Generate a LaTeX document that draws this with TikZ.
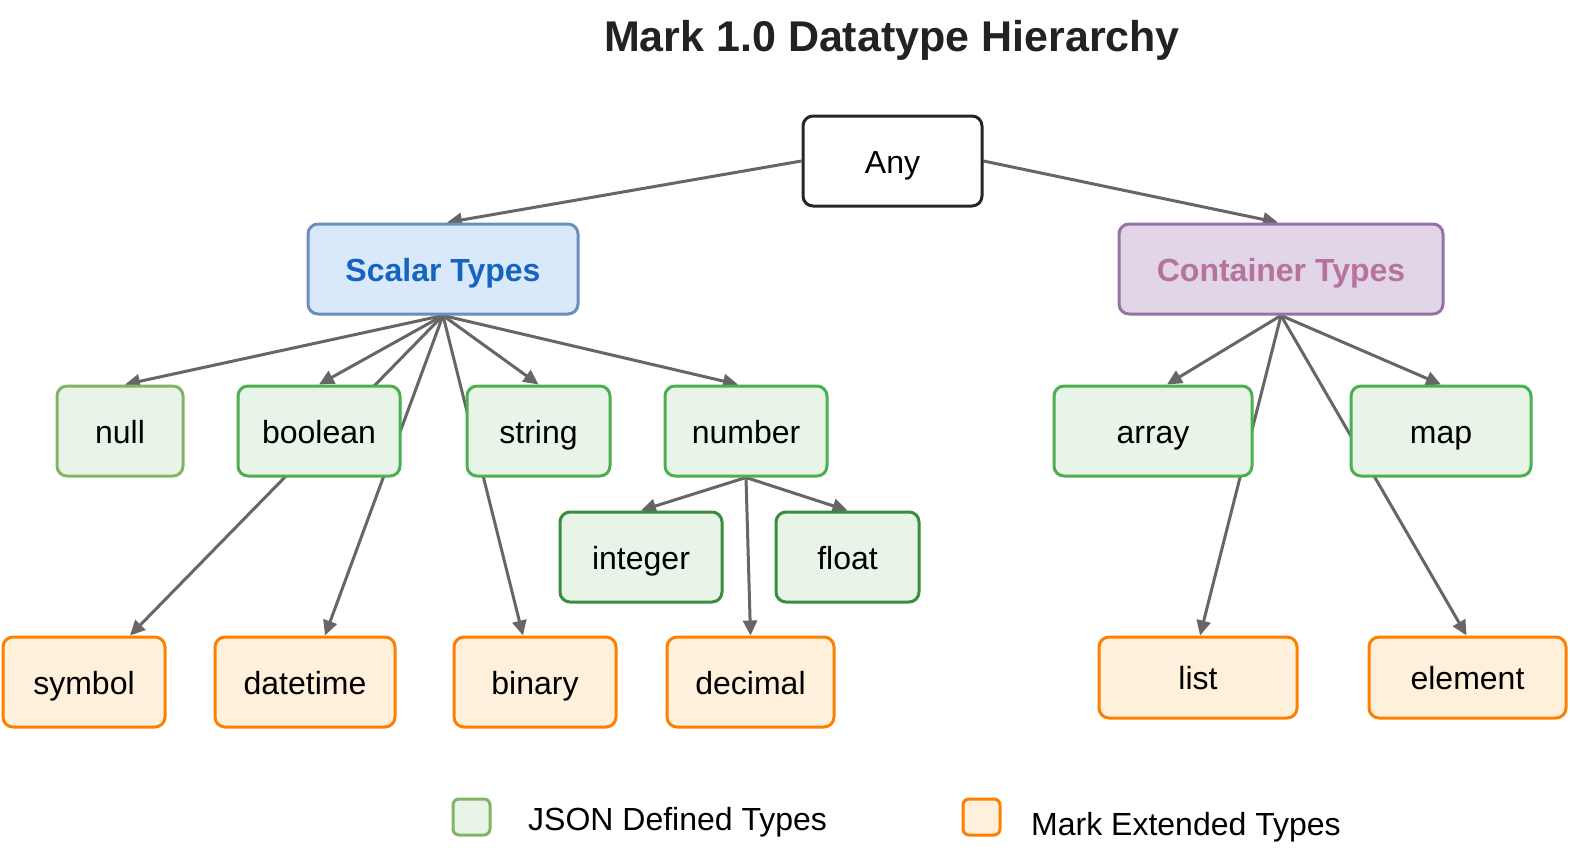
\documentclass[tikz,border=0pt]{standalone}
\usepackage{fontspec}
\setmainfont{Liberation Sans}
\usetikzlibrary{arrows.meta,backgrounds,calc}
\definecolor{edgegray}{HTML}{666666}
\definecolor{jsonfill}{HTML}{E8F4E8}
\definecolor{jsonborder}{HTML}{4CAF50}
\definecolor{jsonlight}{HTML}{82B366}
\definecolor{jsondark}{HTML}{388E3C}
\definecolor{markfill}{HTML}{FFF0DC}
\definecolor{markborder}{HTML}{FF8000}
\definecolor{scalarfill}{HTML}{DAE8FC}
\definecolor{scalarborder}{HTML}{6C8EBF}
\definecolor{scalartext}{HTML}{1565C0}
\definecolor{contfill}{HTML}{E1D5E7}
\definecolor{contborder}{HTML}{9673A6}
\definecolor{conttext}{HTML}{B5739D}
\definecolor{titlecol}{HTML}{222222}
\tikzset{
  box/.style={draw, rounded corners=10pt, line width=3pt, inner sep=0pt,
    text height=30pt, text depth=6pt,
    minimum height=90pt, font=\fontsize{32}{38}\selectfont},
  jsonbox/.style={box, fill=jsonfill, draw=jsonborder},
  markbox/.style={box, fill=markfill, draw=markborder},
  edge/.style={draw=edgegray, line width=3pt, -{Triangle[length=15pt,width=14pt]}},
  legendbox/.style={draw, rounded corners=6pt, line width=3pt, minimum width=37pt, minimum height=36pt, inner sep=0pt},
  legendtext/.style={anchor=base west, inner sep=0pt, font=\fontsize{32}{38}\selectfont}
}
\begin{document}
\begin{tikzpicture}[x=1pt,y=-1pt]
\useasboundingbox (0,0) rectangle (1570,855);
\node[anchor=base, inner sep=0pt, font=\fontsize{43}{50}\selectfont\bfseries, text=titlecol] (title) at (892,51) {Mark 1.0 Datatype Hierarchy};

\node[box, fill=white, draw=black!85, minimum width=179pt] (any) at (892.5,161) {Any};
\node[box, fill=scalarfill, draw=scalarborder, text=scalartext, minimum width=270pt, font=\fontsize{32}{38}\selectfont\bfseries] (scalar) at (443,269) {Scalar Types};
\node[box, fill=contfill, draw=contborder, text=conttext, minimum width=324pt, font=\fontsize{32}{38}\selectfont\bfseries] (container) at (1281,269) {Container Types};

\node[jsonbox, draw=jsonlight, minimum width=126pt] (null) at (120,431) {null};
\node[jsonbox, minimum width=162pt] (boolean) at (319,431) {boolean};
\node[jsonbox, minimum width=143pt] (string) at (538.5,431) {string};
\node[jsonbox, minimum width=162pt] (number) at (746,431) {number};
\node[jsonbox, draw=jsondark, minimum width=162pt] (integer) at (641,557) {integer};
\node[jsonbox, draw=jsondark, minimum width=143pt] (float) at (847.5,557) {float};
\node[jsonbox, minimum width=198pt] (array) at (1153,431) {array};
\node[jsonbox, minimum width=180pt] (map) at (1441,431) {map};

\node[markbox, minimum width=162pt] (symbol) at (84,682) {symbol};
\node[markbox, minimum width=180pt] (datetime) at (305,682) {datetime};
\node[markbox, minimum width=162pt] (binary) at (535,682) {binary};
\node[markbox, minimum width=167pt] (decimal) at (750.5,682) {decimal};
\node[markbox, minimum width=198pt, minimum height=81pt] (list) at (1198,677.5) {list};
\node[markbox, minimum width=197pt, minimum height=81pt] (element) at (1467.5,677.5) {element};

\node[legendbox, fill=jsonfill, draw=jsonlight] (legjson) at (471.5,817) {};
\node[legendtext] (legjsontext) at (528,830) {JSON Defined Types};
\node[legendbox, fill=markfill, draw=markborder] (legmark) at (981.5,817) {};
\node[legendtext] (legmarktext) at (1031,835) {Mark Extended Types};

\begin{scope}[on background layer]
\draw[edge] (any.west) -- ([xshift=4pt]scalar.north);
\draw[edge] (any.east) -- ([xshift=-3pt]container.north);
\draw[edge] (scalar.south) -- ([xshift=5pt]null.north);
\draw[edge] (scalar.south) -- (boolean.north);
\draw[edge] (scalar.south) -- (string.north);
\draw[edge] (scalar.south) -- ([xshift=-8pt]number.north);
\draw[edge] (scalar.south) -- ([xshift=46pt]symbol.north);
\draw[edge] (scalar.south) -- ([xshift=20pt]datetime.north);
\draw[edge] (scalar.south) -- ([xshift=-12pt]binary.north);
\draw[edge] (number.south) -- (integer.north);
\draw[edge] (number.south) -- (float.north);
\draw[edge] (number.south) -- (decimal.north);
\draw[edge] (container.south) -- ([xshift=14pt]array.north);
\draw[edge] (container.south) -- (map.north);
\draw[edge] (container.south) -- ([xshift=2pt]list.north);
\draw[edge] (container.south) -- ([xshift=-1pt]element.north);
\end{scope}
\end{tikzpicture}
\end{document}
